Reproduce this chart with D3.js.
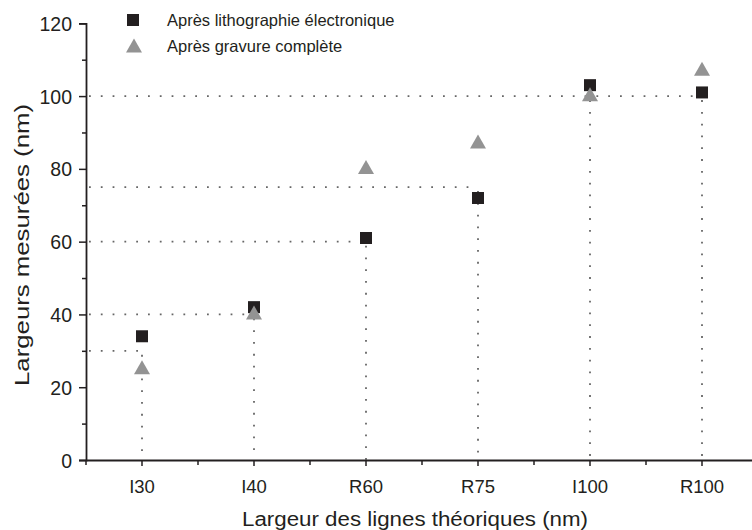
<!DOCTYPE html>
<html>
<head>
<meta charset="utf-8">
<script src="https://cdn.jsdelivr.net/npm/d3@7"></script>
<style>
  html, body { margin: 0; padding: 0; background: #ffffff; }
  svg { display: block; }
  text { font-family: "Liberation Sans", Arial, sans-serif; fill: #231f20; }
</style>
</head>
<body>
<svg id="chart" width="752" height="530"></svg>
<script>
// Line-width samples
const categories = ["I30", "I40", "R60", "R75", "I100", "R100"];
const theoretical = [30, 40, 60, 75, 100, 100];            // nominal widths (nm)
const afterLitho = [34, 42, 61, 72, 103, 101];              // après lithographie électronique
const afterEtch = [25.5, 40.5, 80.5, 87.5, 100.5, 107.5];   // après gravure complète
const yTicks = [0, 20, 40, 60, 80, 100, 120];
const yMinorTicks = [10, 30, 50, 70, 90, 110];

const seriesNames = ["Après lithographie électronique", "Après gravure complète"];
const xTitle = "Largeur des lignes théoriques (nm)";
const yTitle = "Largeurs mesurées (nm)";

const ink = "#231f20";
const squareColor = "#231f20";
const triangleColor = "#939393";
const guideColor = "#666666";

const svg = d3.select("#chart");

const plotLeft = 86, plotBottom = 460, plotTop = 23.3, plotRight = 758;

const x = d3.scaleBand().domain(categories).range([plotLeft, plotRight]);
const y = d3.scaleLinear().domain([0, 120]).range([plotBottom, plotTop]);
const cx = c => x(c) + x.bandwidth() / 2;

// Triangle symbol centred on its bounding box
const triangleBox = {
  draw(ctx, size) {
    const w = Math.sqrt(size);
    const h = w * 0.875;
    ctx.moveTo(0, -h / 2);
    ctx.lineTo(w / 2, h / 2);
    ctx.lineTo(-w / 2, h / 2);
    ctx.closePath();
  }
};
const squarePath = d3.symbol().type(d3.symbolSquare).size(144)();
const trianglePath = d3.symbol().type(triangleBox).size(256)();

// Dotted guide lines from the nominal width to each sample
const guides = svg.append("g")
  .attr("stroke", guideColor)
  .attr("stroke-width", 1.8)
  .attr("stroke-dasharray", "1.8,10")
  .attr("fill", "none");

categories.forEach((c, i) => {
  // skip the horizontal guide when a later sample shares the same nominal value
  const later = theoretical.slice(i + 1).includes(theoretical[i]);
  if (!later) {
    guides.append("line")
      .attr("x1", plotLeft + 3).attr("x2", cx(c))
      .attr("y1", y(theoretical[i])).attr("y2", y(theoretical[i]));
  }
  guides.append("line")
    .attr("x1", cx(c)).attr("x2", cx(c))
    .attr("y1", y(theoretical[i]) + 4).attr("y2", y(0));
});

// Axes
const yAxis = svg.append("g")
  .attr("transform", `translate(${plotLeft},0)`)
  .call(d3.axisLeft(y).tickValues(yTicks).tickSize(7).tickPadding(7));
svg.append("g")
  .attr("transform", `translate(${plotLeft},0)`)
  .call(d3.axisLeft(y).tickValues(yMinorTicks).tickSize(4).tickFormat(""))
  .call(g => g.select(".domain").remove())
  .call(g => g.selectAll("line").attr("stroke", ink).attr("stroke-width", 1.5));

const xAxis = svg.append("g")
  .attr("transform", `translate(0,${plotBottom})`)
  .call(d3.axisBottom(x).tickSize(6).tickPadding(14).tickSizeOuter(0));

// minor ticks on the band boundaries
const boundaries = categories.map(c => x(c)).concat([x.range()[1]]);
svg.append("g")
  .selectAll("line")
  .data(boundaries)
  .join("line")
  .attr("x1", d => d).attr("x2", d => d)
  .attr("y1", plotBottom).attr("y2", plotBottom + 5)
  .attr("stroke", ink).attr("stroke-width", 1.5);

[yAxis, xAxis].forEach(g => {
  g.select(".domain").attr("stroke", ink).attr("stroke-width", 1.8);
  g.selectAll(".tick line").attr("stroke", ink).attr("stroke-width", 1.5);
  g.selectAll(".tick text")
    .attr("font-family", '"Liberation Sans", Arial, sans-serif')
    .attr("fill", ink);
});
yAxis.selectAll(".tick text").attr("font-size", 19.5).attr("dy", "0.36em");
xAxis.selectAll(".tick text").attr("font-size", 18.5).attr("dy", "0.71em");

// Markers
svg.append("g")
  .selectAll("path")
  .data(categories)
  .join("path")
  .attr("d", squarePath)
  .attr("transform", (c, i) => `translate(${cx(c)},${y(afterLitho[i])})`)
  .attr("fill", squareColor);

svg.append("g")
  .selectAll("path")
  .data(categories)
  .join("path")
  .attr("d", trianglePath)
  .attr("transform", (c, i) => `translate(${cx(c)},${y(afterEtch[i])})`)
  .attr("fill", triangleColor);

// Legend
const legend = svg.append("g");
legend.append("path").attr("d", squarePath)
  .attr("transform", "translate(133,20)").attr("fill", squareColor);
legend.append("path").attr("d", trianglePath)
  .attr("transform", "translate(134,45.5)").attr("fill", triangleColor);
legend.append("text").attr("x", 167).attr("y", 26)
  .attr("font-size", 16.5).text(seriesNames[0]);
legend.append("text").attr("x", 167).attr("y", 51.5)
  .attr("font-size", 16.5).text(seriesNames[1]);

// Axis titles
svg.append("text")
  .attr("x", 415).attr("y", 526)
  .attr("text-anchor", "middle")
  .attr("font-size", 20)
  .attr("textLength", 346)
  .attr("lengthAdjust", "spacingAndGlyphs")
  .text(xTitle);

svg.append("text")
  .attr("transform", "translate(29,245) rotate(-90)")
  .attr("text-anchor", "middle")
  .attr("font-size", 20)
  .attr("textLength", 282)
  .attr("lengthAdjust", "spacingAndGlyphs")
  .text(yTitle);
</script>
</body>
</html>
